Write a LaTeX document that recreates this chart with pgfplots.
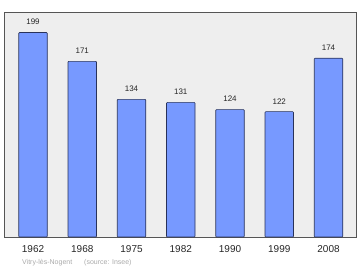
\documentclass[border=0pt]{standalone}
\usepackage{fontspec}
\setmainfont{Liberation Sans}
\usepackage{pgfplots}
\pgfplotsset{compat=1.18}
\definecolor{barfill}{RGB}{119,153,255}
\definecolor{barline}{RGB}{40,50,90}
\definecolor{bgc}{RGB}{238,238,238}
\definecolor{frame}{RGB}{85,85,85}
\definecolor{foot}{RGB}{170,170,170}
\begin{document}
\begin{tikzpicture}[x=1pt,y=1pt]
\path[use as bounding box] (0,0) rectangle (360,270);
\begin{axis}[
  at={(4pt,33pt)}, anchor=south west,
  scale only axis, width=352pt, height=225pt,
  xmin=-0.589, xmax=6.558, ymin=0, ymax=219,
  axis background/.style={fill=bgc},
  axis line style={draw=frame, line width=0.9pt},
  ytick=\empty,
  xtick={0,1,2,3,4,5,6},
  xticklabels={1962,1968,1975,1982,1990,1999,2008},
  major tick length=0pt,
  xticklabel style={font=\fontsize{10}{12}\selectfont, yshift=-5pt, text=black!85},
  /pgf/number format/assume math mode=true,
  nodes near coords,
  nodes near coords style={font=\fontsize{8}{9.6}\selectfont, yshift=4pt, text=black!85},
  clip=false,
]
\addplot[ybar, bar width=28.5pt, fill=barfill, draw=barline, line width=0.6pt, rounded corners=0.8pt]
  coordinates {(0,199) (1,171) (2,134) (3,131) (4,124) (5,122) (6,174)};
\end{axis}
\node[anchor=west, text=foot, font=\fontsize{7}{8.4}\selectfont, inner sep=0pt] at (22,7) {Vitry-lès-Nogent\hspace{12pt}(source: Insee)};
\end{tikzpicture}
\end{document}
